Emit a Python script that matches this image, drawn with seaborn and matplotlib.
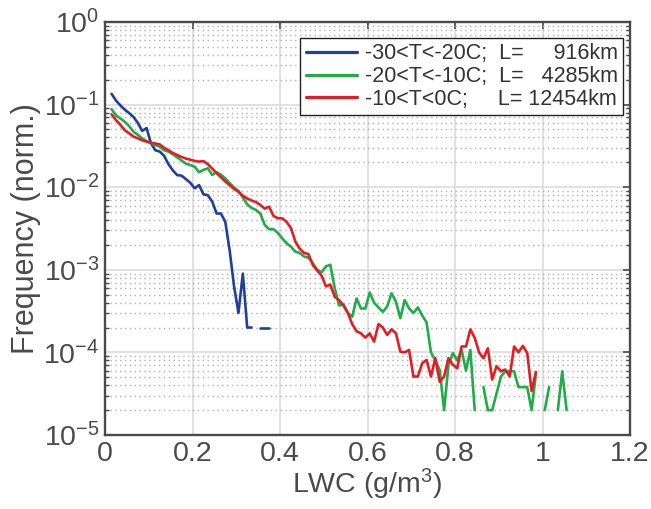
import numpy as np
import pandas as pd
import matplotlib
matplotlib.use("Agg")
import matplotlib.pyplot as plt
from matplotlib.ticker import LogLocator, NullFormatter, FixedLocator
import seaborn as sns

nan = np.nan

# LWC bin centres (g/m^3)
lwc_bins = np.round(np.arange(0.015, 1.0551, 0.01), 3)

blue_vals = [0.135, 0.112, 0.098, 0.087, 0.079, 0.071, 0.060, 0.048, 0.052, 0.034,
             0.028, 0.027, 0.024, 0.019, 0.016, 0.014, 0.0138, 0.0125, 0.0113, 0.0097,
             0.0106, 0.0082, 0.0080, 0.0067, 0.0048, 0.0048, 0.0038, 0.0017, 0.00063, 0.0003,
             0.0009, 0.0002, 0.0002, nan, 0.0002, 0.0002, 0.0002]

green_vals = [0.088, 0.074, 0.068, 0.062, 0.055, 0.047, 0.043, 0.039, 0.036, 0.034,
              0.0323, 0.031, 0.028, 0.027, 0.025, 0.023, 0.021, 0.0193, 0.0185, 0.0177,
              0.0152, 0.0162, 0.0169, 0.0141, 0.0152, 0.0141, 0.0128, 0.0112, 0.0099, 0.009,
              0.0075, 0.0062, 0.0056, 0.0053, 0.0048, 0.0035, 0.0031, 0.0031, 0.0028, 0.0024,
              0.0021, 0.0019, 0.00166, 0.0016, 0.00145, 0.0014, 0.0012, 0.001, 0.00093, 0.0011,
              0.00115, 0.0006, 0.00037, 0.00038, 0.0003, 0.00027, 0.00045, 0.00034, 0.00034, 0.00053,
              0.0004, 0.00035, 0.00031, 0.00036, 0.00052, 0.00041, 0.00026, 0.00043, 0.00034, 0.0003,
              0.00035, 0.00028, 0.00023, 0.0001, 0.00008, 0.000061, 0.00002, 0.00007, 0.000098, 0.00008,
              0.000107, 0.00006, 0.000107, 0.00002, nan, 0.000038, 0.00002, 0.00002, 0.000032, 0.000051,
              0.000059, 0.000059, 0.000059, 0.000038, 0.000038, 0.000038, 0.00002, 0.000056, nan, 0.00002,
              0.000038, nan, 0.00002, 0.000059, 0.00002]

red_vals = [0.076, 0.065, 0.057, 0.049, 0.045, 0.041, 0.039, 0.037, 0.0356, 0.0346,
            0.0338, 0.033, 0.030, 0.028, 0.026, 0.0245, 0.0232, 0.0222, 0.0215, 0.0208,
            0.0204, 0.0207, 0.019, 0.0168, 0.0148, 0.0132, 0.0117, 0.0106, 0.0095, 0.0088,
            0.0079, 0.0073, 0.0069, 0.0066, 0.0061, 0.0055, 0.0058, 0.0045, 0.0042, 0.0042,
            0.0038, 0.0032, 0.0022, 0.0018, 0.0016, 0.00155, 0.00114, 0.00098, 0.00085, 0.00063,
            0.00066, 0.00047, 0.00043, 0.00037, 0.0003, 0.00022, 0.00018, 0.00017, 0.000151, 0.00017,
            0.000135, 0.00022, 0.0002, 0.000163, 0.00019, 0.00017, 0.000102, 0.0001, 0.000107, 0.000051,
            0.000051, 0.000074, 0.000081, 0.000051, 0.000085, 0.000044, 0.000051, 0.000085, 0.000071, 0.000064,
            0.000118, 0.000118, 0.00019, 0.00015, 0.0001, 0.000085, 0.000112, 0.000047, 0.000068, 0.000059,
            0.000062, 0.000051, 0.000118, 0.0001, 0.00012, 0.000098, 0.000034, 0.000058]

labels = ["-30<T<-20C;  L=     916km",
          "-20<T<-10C;  L=   4285km",
          "-10<T<0C;     L= 12454km"]
colors = ["#21409c", "#22ab48", "#e41d25"]

x_ticks = [0, 0.2, 0.4, 0.6, 0.8, 1.0, 1.2]
x_ticklabels = ["0", "0.2", "0.4", "0.6", "0.8", "1", "1.2"]

# ---- build long table with contiguous segment ids (gaps = zero counts)
rows = []
for lab, vals in zip(labels, [blue_vals, green_vals, red_vals]):
    seg = 0
    prev_nan = False
    for xv, yv in zip(lwc_bins, vals):
        if np.isnan(yv):
            prev_nan = True
            continue
        if prev_nan:
            seg += 1
            prev_nan = False
        rows.append({"LWC": xv, "Freq": yv, "Series": lab, "seg": f"{lab}_{seg}"})
df = pd.DataFrame(rows)

sns.set_theme(style="white")
plt.rcParams["font.family"] = ["Liberation Sans", "DejaVu Sans"]
plt.rcParams["mathtext.fontset"] = "custom"
plt.rcParams["mathtext.rm"] = "Liberation Sans"
plt.rcParams["mathtext.it"] = "Liberation Sans:italic"
plt.rcParams["mathtext.default"] = "regular"
plt.rcParams["axes.unicode_minus"] = False

txtc = "#4a4a4a"
fig = plt.figure(figsize=(6.51, 5.09), dpi=100)
ax = fig.add_axes([0.1613, 0.1454, 0.8065, 0.8114])

sns.lineplot(data=df, x="LWC", y="Freq", hue="Series", units="seg", estimator=None,
             palette=dict(zip(labels, colors)), hue_order=labels, linewidth=1.9,
             ax=ax, legend=True)

ax.set_yscale("log")
ax.set_xlim(0, 1.2)
ax.set_ylim(1e-5, 1)
ax.xaxis.set_major_locator(FixedLocator(x_ticks))
ax.set_xticklabels(x_ticklabels)
ax.yaxis.set_major_locator(LogLocator(base=10, numticks=10))
ax.yaxis.set_minor_locator(LogLocator(base=10, subs=np.arange(2, 10), numticks=20))
ax.yaxis.set_minor_formatter(NullFormatter())

ax.grid(True, which="major", axis="both", color="#dcdcdc", linewidth=1.2, linestyle="-")
ax.grid(True, which="minor", axis="y", color="#b0b0b0", linewidth=1.0, linestyle=(0, (1, 2.5)))
ax.set_axisbelow(True)

for s in ax.spines.values():
    s.set_color(txtc)
    s.set_linewidth(1.7)
    s.set_visible(True)

ax.tick_params(axis="both", which="major", direction="in", length=5, width=1.2,
               colors=txtc, labelsize=20.5, top=True, right=True, pad=4)
ax.tick_params(axis="y", which="minor", direction="in", length=3, width=1.0,
               colors=txtc, right=True, left=True)
ax.tick_params(axis="x", which="minor", bottom=False, top=False)

ax.set_xlabel("LWC (g/m$^3$)", fontsize=20.5, color=txtc, labelpad=0)
ax.set_ylabel("Frequency (norm.)", fontsize=22, color=txtc, labelpad=2)

leg = ax.legend(loc="upper right", bbox_to_anchor=(0.987, 0.961), borderaxespad=0,
                fontsize=15.5, frameon=True, fancybox=False, edgecolor="#222222",
                framealpha=1, handlelength=2.4, handletextpad=0.35, labelspacing=0.08,
                borderpad=0.25, title=None)
leg.get_frame().set_linewidth(1.0)
for t in leg.get_texts():
    t.set_color("#333333")
for l in leg.get_lines():
    l.set_linewidth(2.3)

fig.savefig("out.png", dpi=100)
